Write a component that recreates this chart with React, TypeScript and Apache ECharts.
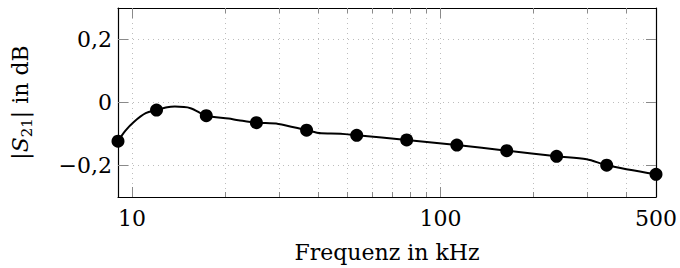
import React, { useEffect, useRef } from "react";
import * as echarts from "echarts";

// Dense measured curve (frequency in kHz, |S21| in dB)
const curveFreq = [9, 9.5, 10.15, 11.07, 12, 13, 13.76, 15.47, 17.4, 20.55, 22.1, 25.3, 29.8, 36.8, 41, 47.5, 53.5, 77.7, 113, 164, 238, 298, 346, 500];
const curveVals = [-0.123, -0.09, -0.061, -0.034, -0.024, -0.015, -0.013, -0.018, -0.042, -0.051, -0.056, -0.064, -0.068, -0.088, -0.098, -0.099, -0.104, -0.119, -0.135, -0.153, -0.171, -0.18, -0.199, -0.228];

// Marker points
const markerFreq = [9, 12, 17.4, 25.3, 36.8, 53.5, 77.7, 113, 164, 238, 346, 500];
const markerVals = [-0.123, -0.024, -0.042, -0.064, -0.088, -0.104, -0.119, -0.135, -0.153, -0.171, -0.199, -0.228];

// Axes
const xMajorTicks = [10, 100];
const xMinorTicks = [20, 30, 40, 50, 60, 70, 80, 90, 200, 300, 400];
const xTickLabels = [10, 100, 500];
const yTicks = [-0.2, 0, 0.2];

const FONT = "DejaVu Serif";
const FS = 22;
const TICK_COLOR = "#8a8a8a";
const GRID_COLOR = "#bdbdbd";

export default function App() {
  const ref = useRef<HTMLDivElement>(null);
  useEffect(() => {
    if (!ref.current) return;
    const chart = echarts.init(ref.current, undefined, { renderer: "svg" });
    const xBase = (extra: any) => ({
      type: "log",
      logBase: 10,
      min: 9,
      max: 500,
      gridIndex: 0,
      ...extra,
    });
    const gridLine = { show: true, lineStyle: { color: GRID_COLOR, width: 1, type: [1, 4] } };
    chart.setOption({
      animation: false,
      grid: { left: 118, right: 21, top: 8, bottom: 71 },
      xAxis: [
        xBase({
          position: "bottom",
          axisLine: { show: true, onZero: false, lineStyle: { color: "#000", width: 1.2 } },
          axisTick: { show: true, inside: true, length: 10, customValues: xMajorTicks, lineStyle: { color: TICK_COLOR, width: 1 } },
          minorTick: { show: false },
          axisLabel: {
            show: true,
            customValues: xTickLabels,
            margin: 10,
            color: "#000",
            fontFamily: FONT,
            fontSize: FS,
            formatter: (v: number) => String(Math.round(v)),
          },
          splitLine: gridLine,
          name: "Frequenz in kHz",
          nameLocation: "middle",
          nameGap: 44,
          nameTextStyle: { color: "#000", fontFamily: FONT, fontSize: FS },
        }),
        xBase({
          position: "bottom",
          axisLine: { show: false, onZero: false },
          axisTick: { show: true, inside: true, length: 5, customValues: xMinorTicks, lineStyle: { color: TICK_COLOR, width: 1 } },
          axisLabel: { show: false },
          splitLine: gridLine,
        }),
        xBase({
          position: "top",
          axisLine: { show: true, onZero: false, lineStyle: { color: "#000", width: 1.2 } },
          axisTick: { show: true, inside: true, length: 10, customValues: xMajorTicks, lineStyle: { color: TICK_COLOR, width: 1 } },
          axisLabel: { show: false },
          splitLine: { show: false },
        }),
        xBase({
          position: "top",
          axisLine: { show: false, onZero: false },
          axisTick: { show: true, inside: true, length: 5, customValues: xMinorTicks, lineStyle: { color: TICK_COLOR, width: 1 } },
          axisLabel: { show: false },
          splitLine: { show: false },
        }),
      ],
      yAxis: [
        {
          type: "value",
          min: -0.3,
          max: 0.3,
          position: "left",
          axisLine: { show: true, onZero: false, lineStyle: { color: "#000", width: 1.2 } },
          axisTick: { show: true, inside: true, length: 10, customValues: yTicks, lineStyle: { color: TICK_COLOR, width: 1 } },
          axisLabel: {
            show: true,
            customValues: yTicks,
            margin: 6,
            color: "#000",
            fontFamily: FONT,
            fontSize: FS,
            formatter: (v: number) => {
              if (Math.abs(v) < 1e-9) return "0";
              const s = Math.abs(v).toFixed(1).replace(".", ",");
              return v < 0 ? "\u2212" + s : s;
            },
          },
          splitLine: gridLine,
          name: "{a||}{s|S}{sub|21}{a|| in dB}",
          nameLocation: "middle",
          nameGap: 84,
          nameTextStyle: {
            color: "#000",
            fontFamily: FONT,
            fontSize: FS,
            rich: {
              a: { fontFamily: FONT, fontSize: FS, color: "#000", verticalAlign: "middle", lineHeight: 28 },
              s: { fontFamily: FONT, fontSize: FS, fontStyle: "italic", color: "#000", verticalAlign: "middle", lineHeight: 28 },
              sub: { fontFamily: FONT, fontSize: 15, color: "#000", verticalAlign: "bottom", lineHeight: 28, padding: [10, 0, 0, 0] },
            },
          },
        },
        {
          type: "value",
          min: -0.3,
          max: 0.3,
          position: "right",
          axisLine: { show: true, onZero: false, lineStyle: { color: "#000", width: 1.2 } },
          axisTick: { show: true, inside: true, length: 10, customValues: yTicks, lineStyle: { color: TICK_COLOR, width: 1 } },
          axisLabel: { show: false },
          splitLine: { show: false },
        },
      ],
      series: [
        {
          name: "curve",
          type: "line",
          xAxisIndex: 0,
          yAxisIndex: 0,
          data: curveFreq.map((f, i) => [f, curveVals[i]]),
          showSymbol: false,
          symbol: "none",
          smooth: 0.3,
          lineStyle: { color: "#000", width: 2 },
          z: 3,
        },
        {
          name: "markers",
          type: "scatter",
          xAxisIndex: 0,
          yAxisIndex: 0,
          data: markerFreq.map((f, i) => [f, markerVals[i]]),
          symbol: "circle",
          symbolSize: 13,
          itemStyle: { color: "#000", opacity: 1 },
          z: 4,
        },
      ],
    });
    return () => chart.dispose();
  }, []);
  return (
    <div
      ref={ref}
      style={{ position: "fixed", left: 0, top: 0, width: 680, height: 268, background: "#fff" }}
    />
  );
}
